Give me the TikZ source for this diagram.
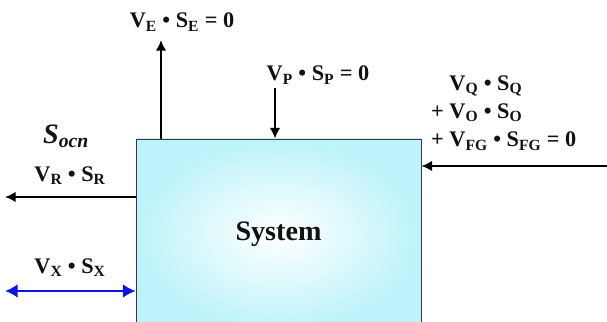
\documentclass[tikz,border=0pt]{standalone}
\usepackage{fontspec}
\setmainfont{Liberation Serif}
\usetikzlibrary{arrows.meta}
\definecolor{boxedge}{HTML}{BDF3FA}
\definecolor{boxframe}{HTML}{3A3A3A}
\definecolor{mixblue}{HTML}{0A14E6}
\definecolor{textcolor}{HTML}{111111}

\begin{document}
\begin{tikzpicture}[
  x=0.3mm, y=-0.3mm,
  every node/.style={font=\fontsize{19}{24}\selectfont\bfseries, text=textcolor, inner sep=0pt},
  flow/.style={draw=black, line width=2.2pt, -{Latex[length=3.2mm, width=3.2mm]}},
  mix/.style={draw=mixblue, line width=2.2pt, {Latex[length=3.8mm, width=4.2mm]}-{Latex[length=3.8mm, width=4.2mm]}},
  sysbox/.style={draw=boxframe, line width=0.7pt, inner color=white, outer color=boxedge,
    minimum width=85.5mm, minimum height=57.3mm}
]
  \useasboundingbox (0,0) rectangle (607,322);

  % the control volume
  \node[sysbox, font=\fontsize{24}{28}\selectfont\bfseries] (sys) at (278.5,234.5) {System};

  % free ends of the fluxes
  \coordinate (eHead) at (161,40);
  \coordinate (pTail) at (275,88);
  \coordinate (qTail) at (607,166);
  \coordinate (rHead) at (5,197);
  \coordinate (xEnd) at (5,291);

  \draw[flow] (eHead |- sys.north) -- (eHead);
  \draw[flow] (pTail) -- (pTail |- sys.north);
  \draw[flow] (qTail) -- (qTail -| sys.east);
  \draw[flow] (rHead -| sys.west) -- (rHead);
  \draw[mix] (xEnd) -- (xEnd -| sys.west);

  % labels
  \node (eLbl) at (182,22) {V\textsubscript{E} • S\textsubscript{E} = 0};
  \node (pLbl) at (318,75) {V\textsubscript{P} • S\textsubscript{P} = 0};
  \node[anchor=west, align=left] (qLbl) at (431,113)
    {\phantom{+}\ V\textsubscript{Q} • S\textsubscript{Q}\\
     + V\textsubscript{O} • S\textsubscript{O}\\
     + V\textsubscript{FG} • S\textsubscript{FG} = 0};
  \node[font=\fontsize{24}{27}\selectfont\bfseries\itshape] (ocn) at (66,136) {S\textsubscript{ocn}};
  \node (rLbl) at (70,176) {V\textsubscript{R} • S\textsubscript{R}};
  \node (xLbl) at (70,268) {V\textsubscript{X} • S\textsubscript{X}};
\end{tikzpicture}
\end{document}
